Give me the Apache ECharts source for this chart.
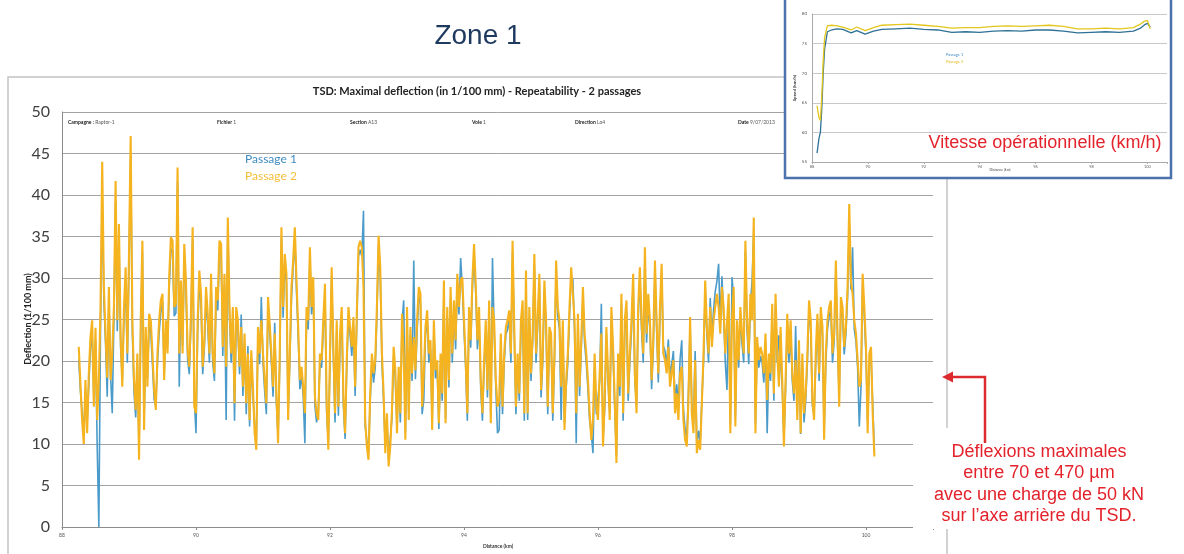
<!DOCTYPE html>
<html><head><meta charset="utf-8">
<script src="https://cdn.jsdelivr.net/npm/echarts@6/dist/echarts.min.js"></script>
<style>html,body{margin:0;padding:0;background:#fff}#c{width:1184px;height:554px}</style>
</head><body><div id="c"></div><script>
// ---- Main chart data: deflection (1/100 mm), sampled every 0.025 km from 88.25 km ----
const distStart = 88.25;
const distStep = 0.025;
const passage2 = [
21.7,17.3,12.9,10,17.7,11.3,18.5,22.9,24.9,14.5,24,12.9,17.7,26.5,44,28.9,23.3,18,28.9,17.7,
20.9,26.5,41.7,24.9,36.5,22.9,16.9,26.5,31.3,20.9,32.9,47.1,24.9,17.7,14.1,20.9,8.1,24.9,34.5,11.7,
24.1,16.9,25.7,24.9,20.9,16.5,14.1,20.9,24.9,27.3,28.1,17.7,24.9,20.9,30.1,34.9,34.5,26.5,26.9,43.3,
20.9,29.7,20.9,34.1,29.7,21.3,19.3,25.7,36.1,14.5,13.7,24.9,30.9,28.1,19.3,22.5,28.9,25.7,20.9,30.5,
20.9,18.5,28.9,27.3,34.5,34.1,21.7,30.5,19.3,37.3,
26.5,20.9,26.5,14.9,26.5,24.9,19.3,24.1,16.9,23.3,14.9,20.9,12.9,21.3,16.9,11.3,9.3,24.1,20.9,24.9,
20.9,17.7,14.9,27.7,24.5,20.9,16.9,23.3,16.1,10.1,20.9,36.1,26.5,32.9,30.5,12.9,20.9,28.9,32.1,36.1,
29.7,24.1,17.7,19.3,16.9,13.7,26.5,24.9,33.7,26.5,30.1,15.7,13.7,12.9,20.9,20.1,24.9,29.3,14.9,9.3,
20.9,31.3,21.7,13.7,24.9,14.5,23.3,26.5,15.7,11.3,20.1,26.5,24.1,21.7,25.3,16.9,25.7,33.7,34.5,33.7,
28.9,12.9,9.7,8.1,16.1,20.9,18.5,20.1,26.5,35.1,31.3,20.9,16.1,8.9,13.7,7.3,9.7,14.1,21.7,18.9,
11.3,19.3,13.7,25.7,20.9,10.5,26.5,12.9,24.1,18.5,22.9,18.9,24.9,28.9,28.1,14.5,18.5,24.1,26.1,20.9,
22.5,11.7,24.9,18.9,20.1,12.5,20.9,16.1,29.7,12.5,26.5,17.7,28.9,20.9,27.3,22.5,30.5,26.5,29.7,30.1,
24.9,20.1,13.7,26.5,22.5,29.7,34.1,29.3,22.5,26.5,17.7,13.7,20.1,24.9,16.5,27.3,12.5,26.5,24.9,17.7,
14.5,15.3,23.3,14.5,20.9,24.1,24.9,26.1,20.9,34.5,24.1,14.5,20.9,16.1,24.9,27.3,13.7,30.9,13.7,26.5,
18.5,23.3,32.9,20.9,25.3,30.5,16.5,20.9,29.7,24.9,14.5,24.1,23.3,13.7,20.9,32.1,26.5,24.9,
16.9,24.9,11.7,17.7,20.9,26.5,31.3,31.3,24.9,13.7,25.7,16.9,22.5,28.9,23.3,20.9,17.7,13.7,10.5,12.9,
20.9,14.5,12.9,18.5,23.3,9.7,15.3,24.1,18.5,12.9,26.5,21.7,15.3,7.7,20.9,16.9,28.1,13.7,24.9,27.3,
16.1,20.9,24.9,30.5,18.5,13.7,26.5,31.3,24.9,20.9,33.7,23.3,28.1,24.9,17.7,22.5,32.1,24.9,18.5,26.5,
31.7,20.9,20.1,18.5,21.7,16.9,18.5,20.1,13.7,16.1,12.9,18.5,19.3,12.9,10.5,9.7,15.3,25.3,13.7,11.3,
20.1,8.9,10.5,9.3,14.9,20.9,29.7,24.1,20.9,26.5,21.7,24.9,26.5,28.1,26.5,23.3,28.9,26.5,20.9,
20.9,28.1,11.3,24.9,28.9,12.1,24.9,20.1,26.5,23.3,20.9,34.5,24.9,20.9,28.1,24.9,37.3,11.3,22.9,20.1,
21.7,20.9,18.5,23.3,15.3,20.9,18.5,26.9,16.1,28.1,20.9,16.9,24.1,17.7,9.7,17.7,25.7,20.9,24.9,18.5,
16.1,20.1,12.9,22.5,11.3,20.9,13.7,16.1,20.9,27.3,24.9,15.3,12.9,20.9,25.7,18.5,26.5,24.1,10.5,20.9,
24.9,26.5,27.3,20.9,23.3,32.1,23.3,14.5,27.7,26.5,21.7,24.1,28.9,38.9,29.7,28.1,24.9,23.3,20.1,16.9,
17.7,30.5,26.5,21.7,11.3,20.9,21.7,13.7,8.5
];
const passage1 = [
20.2,16.4,13.8,11.2,16.6,12.4,17.1,21.5,23.2,15.6,22.5,9.8,0,24.1,39.8,27.2,22.1,15.7,27.4,18.3,
13.7,25.1,39.2,23.6,34.8,21.7,17.8,25.3,29.6,19.8,31.4,44.8,23.5,16.2,13.2,19.7,9.4,23.6,33.1,12.6,
22.8,17.9,24.3,23.5,19.6,15.4,14.6,19.8,23.4,25.9,27.2,18.6,23.4,21.8,28.7,33.5,33.2,25.4,25.8,41.6,
16.9,28.4,21.8,32.6,28.5,20.2,18.4,24.6,34.8,15.3,11.3,23.6,29.5,26.9,18.4,21.6,27.5,24.3,19.8,29.4,
19.8,17.6,27.6,26.1,33.2,32.9,20.6,29.2,12.9,36.1,
25.1,19.8,25.4,12.8,25.2,23.8,18.4,25.6,15.8,22.1,13.6,21.8,12.1,20.4,15.9,12.2,10.1,23.2,19.6,27.7,
19.8,16.4,13.6,26.4,23.6,19.8,15.7,24.6,14.9,10.9,19.6,34.8,25.2,31.6,29.4,13.8,19.9,27.6,31.2,34.9,
28.4,23.1,16.6,18.2,15.8,10.1,25.3,23.8,32.4,25.6,28.9,14.6,12.6,13.9,19.7,19.2,23.8,28.1,13.8,10.2,
19.8,30.2,20.6,12.6,23.8,13.4,22.1,25.4,14.6,10.6,19.2,25.4,23.1,20.6,24.2,15.8,24.6,32.6,33.4,32.6,
38.1,12.1,10.4,9.1,15.2,19.8,17.4,19.2,25.4,33.8,30.2,19.8,15.2,9.6,12.8,8.1,10.6,13.2,20.6,17.8,
12.1,18.4,12.6,24.6,27.3,11.4,25.2,13.8,23.1,17.6,32.1,17.8,23.6,27.8,26.9,13.6,15.3,23.1,25.2,19.8,
21.4,12.6,23.8,17.9,19.2,11.8,19.6,15.2,28.4,13.1,25.4,16.8,27.6,19.8,26.2,21.4,29.4,25.6,32.4,28.9,
23.8,19.2,12.8,25.4,21.6,28.6,32.9,28.2,21.4,25.2,16.6,12.8,19.2,23.6,15.6,26.2,13.4,32.4,23.8,16.8,
11.3,11.7,22.2,13.6,19.8,23.2,23.8,25.2,19.8,33.2,23.2,13.6,19.8,15.2,23.8,26.1,12.8,29.6,12.9,25.4,
17.6,22.4,31.6,19.8,24.2,29.4,15.6,19.8,28.6,23.8,13.6,23.2,22.4,12.8,19.8,30.8,25.4,23.8,
12.9,23.8,12.6,16.8,19.8,25.4,30.2,29.8,23.6,10.1,24.6,15.8,21.4,27.6,22.2,19.8,16.6,12.8,11.2,8.9,
19.8,13.6,13.8,17.6,26.9,10.6,14.2,23.2,17.4,13.8,25.4,20.6,14.2,8.6,19.8,15.8,26.9,12.8,23.6,26.2,
15.2,19.8,23.6,29.4,17.6,14.6,25.2,30.2,23.8,19.8,32.4,22.2,26.9,23.8,16.6,21.4,30.8,23.8,17.4,25.4,
30.6,21.8,21.2,19.6,22.6,18.2,19.6,21.2,15.2,17.2,14.6,20.2,22.5,14.2,11.8,10.6,16.2,24.2,14.8,12.4,
21.2,9.8,11.6,10.2,15.3,19.8,28.6,23.2,19.8,27.6,22.8,26.2,28.4,29.6,31.7,24.6,30.2,25.4,19.8,
16.5,26.9,12.4,30.1,27.6,13.2,23.6,19.2,25.4,22.1,19.8,33.2,23.6,19.6,26.8,29.7,35.8,12.4,21.6,19.2,
20.6,19.8,17.4,22.2,11.3,19.6,17.6,25.6,15.2,26.8,19.8,23.1,23.2,16.8,10.6,16.8,24.6,19.8,23.6,17.6,
15.2,24.2,13.8,21.6,11.2,19.8,12.6,15.2,19.8,26.2,23.8,14.6,13.6,19.8,24.6,17.6,25.4,23.2,11.4,19.8,
23.8,25.4,26.2,19.8,22.4,30.8,22.2,15.6,26.6,25.4,20.8,23.2,27.6,36.8,28.6,33.7,23.8,22.4,19.2,12.1,
16.8,29.4,25.4,20.6,12.6,19.8,20.6,14.8,9.2
];
// ---- Inset: operational speed (km/h) ----
const speedDist = [88.18,88.25,88.3,88.35,88.4,88.45,88.55,88.7,88.9,89.1,89.4,89.6,89.9,90.2,90.5,91,91.5,92,92.5,93,93.5,94,94.5,95,95.5,96,96.5,97,97.5,98,98.5,99,99.5,99.75,99.9,100,100.1];
const speed1 = [56.5,59,60,64,70,74,77,77.3,77.5,77.4,76.8,77.2,76.6,77.1,77.4,77.5,77.6,77.4,77.3,76.9,77,76.9,77.1,77.2,77.1,77.3,77.3,77.1,76.8,76.9,77,76.9,77.1,77.6,78.2,78.4,77.8];
const speed2 = [64.5,62.5,62,66,72,76,78,78.1,78,77.8,77.3,77.8,77.2,77.7,78.1,78.2,78.3,78.1,77.9,77.6,77.7,77.7,77.9,78,77.9,78,78.1,77.9,77.5,77.5,77.6,77.5,77.7,78.3,78.8,78.9,77.5];

const seriesNames = ['Passage 1', 'Passage 2'];
const infoLabels = [['Campagne : ', 'Raptor-1'], ['Fichier ', '1'], ['Section ', 'A13'], ['Voie ', '1'], ['Direction ', 'Lo4'], ['Date ', '9/07/2013']];
const annotationLines = ['Déflexions maximales', 'entre 70 et 470 µm', 'avec une charge de 50 kN', 'sur l\u2019axe arrière du TSD.'];

const toPairs = (arr) => arr.map((v, i) => [+(distStart + i * distStep).toFixed(3), v]);
const P = 'Lato, "Open Sans", sans-serif';
const A = '"Liberation Sans", Arial, sans-serif';
const BLUE = '#4a9bc9', ORANGE = '#f5b31f';
const RED = '#e3222b';
const evenOnly = v => (Math.abs(v % 2) < 1e-9 ? String(Math.round(v)) : '');

const chart = echarts.init(document.getElementById('c'), null, { renderer: 'canvas' });

const infoX = [68, 217, 350, 472, 575, 738];
const infoTexts = infoLabels.map((p, i) => ({
  type: 'text', z: 2, silent: true,
  style: { x: infoX[i], y: 122, text: '{b|' + p[0] + '}{r|' + p[1] + '}', textVerticalAlign: 'middle',
    rich: { b: { fontSize: 5, fontWeight: 'bold', fontFamily: P, fill: '#222' }, r: { fontSize: 5, fontFamily: P, fill: '#555' } } }
}));

const annoTexts = annotationLines.map((t, i) => ({
  type: 'text', z: 9, silent: true,
  style: { x: 1039, y: 452 + i * 21.3, text: t, textAlign: 'center', textVerticalAlign: 'middle', fontSize: 18, fontFamily: A, fill: RED }
}));

chart.setOption({
  animation: false,
  backgroundColor: '#fff',
  grid: [
    { left: 62, top: 112, width: 871, height: 415 },
    { left: 812, top: 14, width: 355, height: 148 }
  ],
  xAxis: [
    { gridIndex: 0, type: 'value', min: 88, max: 101, interval: 2,
      axisLine: { lineStyle: { color: '#8c8c8c', width: 1 } },
      axisTick: { show: true, length: 3, lineStyle: { color: '#8c8c8c' } },
      axisLabel: { fontSize: 5, color: '#555', fontFamily: P, margin: 6, formatter: evenOnly },
      splitLine: { show: false } },
    { gridIndex: 1, type: 'value', min: 88, max: 100.7, interval: 2, z: 5,
      axisLine: { lineStyle: { color: '#aaa' } },
      axisTick: { show: true, length: 2, lineStyle: { color: '#aaa' } },
      axisLabel: { fontSize: 4, color: '#666', fontFamily: P, margin: 3, formatter: evenOnly },
      splitLine: { show: false } }
  ],
  yAxis: [
    { gridIndex: 0, type: 'value', min: 0, max: 50, interval: 5,
      axisLine: { show: true, lineStyle: { color: '#8c8c8c' } },
      axisTick: { show: false },
      axisLabel: { fontSize: 16, color: '#404040', fontFamily: P, margin: 12 },
      splitLine: { lineStyle: { color: '#a3a3a3', width: 1 } } },
    { gridIndex: 1, type: 'value', min: 55, max: 80, interval: 5, z: 5,
      axisLine: { show: true, lineStyle: { color: '#aaa' } },
      axisTick: { show: false },
      axisLabel: { fontSize: 4.5, color: '#555', fontFamily: P, margin: 5 },
      splitLine: { lineStyle: { color: '#c8c8c8', width: 1 } } }
  ],
  series: [
    { name: seriesNames[0], type: 'line', xAxisIndex: 0, yAxisIndex: 0, data: toPairs(passage1), showSymbol: false, z: 2,
      lineStyle: { color: BLUE, width: 1.6 }, itemStyle: { color: BLUE } },
    { name: seriesNames[1], type: 'line', xAxisIndex: 0, yAxisIndex: 0, data: toPairs(passage2), showSymbol: false, z: 3,
      lineStyle: { color: ORANGE, width: 2.1 }, itemStyle: { color: ORANGE } },
    { name: seriesNames[0] + ' speed', type: 'line', xAxisIndex: 1, yAxisIndex: 1, data: speedDist.map((d, i) => [d, speed1[i]]), showSymbol: false, z: 6,
      lineStyle: { color: '#2f7196', width: 1.3 } },
    { name: seriesNames[1] + ' speed', type: 'line', xAxisIndex: 1, yAxisIndex: 1, data: speedDist.map((d, i) => [d, speed2[i]]), showSymbol: false, z: 6,
      lineStyle: { color: '#e3c61c', width: 1.3 } }
  ],
  graphic: { elements: [
    { type: 'rect', z: 0, silent: true, shape: { x: 8, y: 77, width: 939, height: 500 }, style: { fill: 'none', stroke: '#c4c4c4', lineWidth: 1.5 } },
    { type: 'text', z: 2, silent: true, style: { x: 478, y: 36, text: 'Zone 1', textAlign: 'center', textVerticalAlign: 'middle', fontSize: 28, fontFamily: A, fill: '#1f3a5f' } },
    { type: 'text', z: 2, silent: true, style: { x: 477, y: 91, text: 'TSD: Maximal deflection (in 1/100 mm) - Repeatability - 2 passages', textAlign: 'center', textVerticalAlign: 'middle', fontSize: 11, fontWeight: 'bold', fontFamily: P, fill: '#222' } },
    ...infoTexts,
    { type: 'text', z: 2, silent: true, style: { x: 245, y: 159, text: seriesNames[0], textVerticalAlign: 'middle', fontSize: 12, fontFamily: P, fill: '#3f8cc2' } },
    { type: 'text', z: 2, silent: true, style: { x: 245, y: 176, text: seriesNames[1], textVerticalAlign: 'middle', fontSize: 12, fontFamily: P, fill: '#f3be3a' } },
    { type: 'text', z: 2, silent: true, rotation: Math.PI / 2, x: 28, y: 319, style: { x: 0, y: 0, text: 'Deflection (1/100 mm)', textAlign: 'center', textVerticalAlign: 'middle', fontSize: 9, fontWeight: 'bold', fontFamily: P, fill: '#222' } },
    { type: 'text', z: 2, silent: true, style: { x: 498, y: 546, text: 'Distance (km)', textAlign: 'center', textVerticalAlign: 'middle', fontSize: 5, fontWeight: 'bold', fontFamily: P, fill: '#333' } },
    // inset frame
    { type: 'rect', z: 4, silent: true, shape: { x: 785, y: -3, width: 386, height: 181 }, style: { fill: '#fff', stroke: '#4c72ad', lineWidth: 2.5 } },
    { type: 'text', z: 7, silent: true, rotation: Math.PI / 2, x: 795, y: 88, style: { x: 0, y: 0, text: 'Speed (km/h)', textAlign: 'center', textVerticalAlign: 'middle', fontSize: 4.5, fontWeight: 'bold', fontFamily: P, fill: '#333' } },
    { type: 'text', z: 7, silent: true, style: { x: 1000, y: 170, text: 'Distance (km)', textAlign: 'center', textVerticalAlign: 'middle', fontSize: 3.5, fontFamily: P, fill: '#444' } },
    { type: 'text', z: 7, silent: true, style: { x: 946, y: 55, text: seriesNames[0], textVerticalAlign: 'middle', fontSize: 4, fontFamily: P, fill: '#3f8cc2' } },
    { type: 'text', z: 7, silent: true, style: { x: 946, y: 62, text: seriesNames[1], textVerticalAlign: 'middle', fontSize: 4, fontFamily: P, fill: '#e0b820' } },
    { type: 'text', z: 8, silent: true, style: { x: 1045, y: 143, text: 'Vitesse opérationnelle (km/h)', textAlign: 'center', textVerticalAlign: 'middle', fontSize: 18, fontFamily: A, fill: RED } },
    // annotation box + arrow
    { type: 'rect', z: 3, silent: true, shape: { x: 913, y: 428, width: 271, height: 101 }, style: { fill: '#fff' } },
    { type: 'polyline', z: 9, silent: true, shape: { points: [[985, 443], [985, 377], [951, 377]] }, style: { stroke: '#dc2a2f', lineWidth: 2.5, fill: null } },
    { type: 'polygon', z: 9, silent: true, shape: { points: [[942, 377], [953, 371.5], [953, 382.5]] }, style: { fill: '#dc2a2f' } },
    ...annoTexts
  ] }
});
</script></body></html>
